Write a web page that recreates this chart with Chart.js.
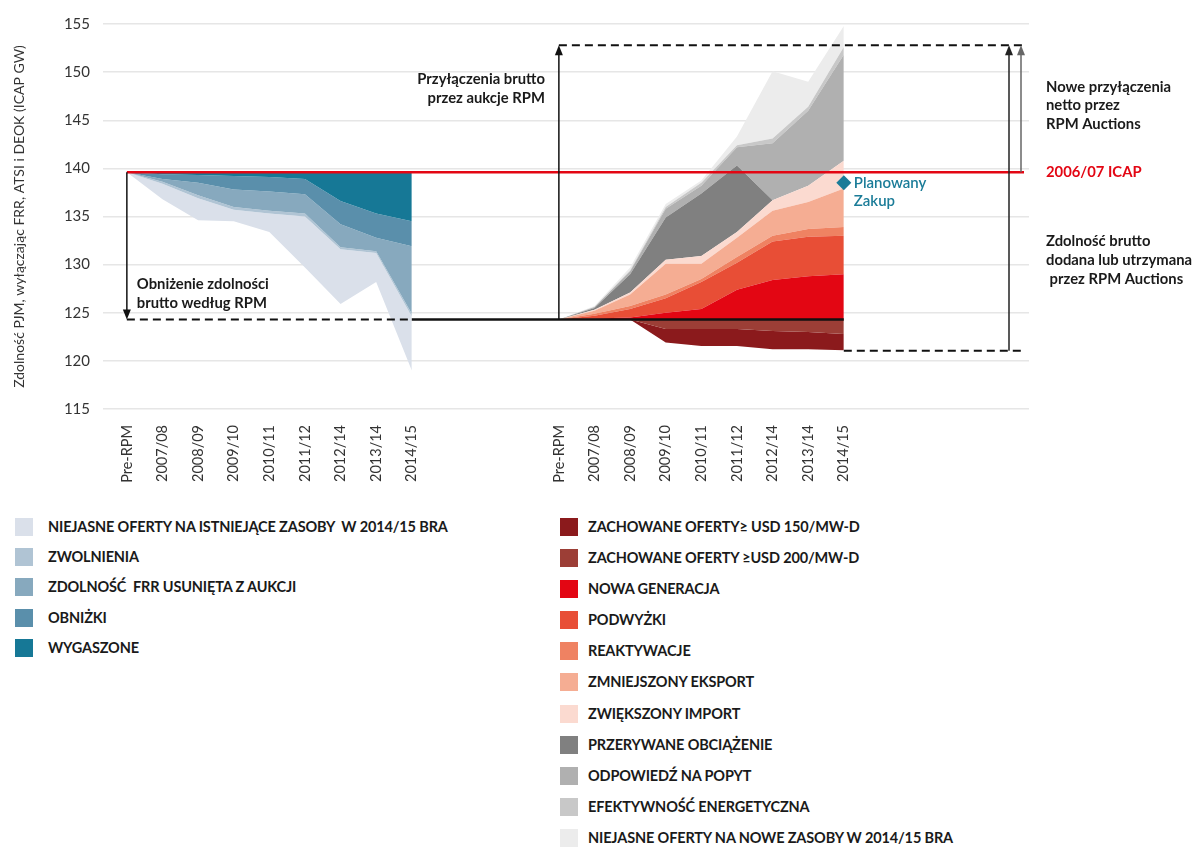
<!DOCTYPE html>
<html lang="pl">
<head>
<meta charset="utf-8">
<script src="https://cdn.jsdelivr.net/npm/chart.js@4.4.0/dist/chart.umd.min.js"></script>
<style>
  body { margin: 0; background: #fff; font-family: Lato, "Noto Sans", sans-serif; }
  #wrap { position: relative; width: 1192px; height: 847px; }
  #chartBox { position: absolute; left: 0; top: 0; width: 1192px; height: 490px; }
  .legend { position: absolute; top: 518px; }
  .legend .row { display: flex; align-items: center; font-weight: bold; font-size: 14.5px; color: #1a1a1a; letter-spacing: -0.15px; white-space: pre; }
  .legend .sw { width: 18px; height: 18px; flex: none; }
</style>
</head>
<body>
<div id="wrap">
  <div id="chartBox"><canvas id="myChart" width="1192" height="490"></canvas></div>
  <div class="legend" id="legLeft" style="left:15px"></div>
  <div class="legend" id="legRight" style="left:560px"></div>
</div>
<script>
// ---- dane (GW) ----
const categories = ['Pre-RPM', '2007/08', '2008/09', '2009/10', '2010/11', '2011/12', '2012/14', '2013/14', '2014/15'];
const yTicks = [115, 120, 125, 130, 135, 140, 145, 150, 155];

const icap0607 = 139.6;     // 2006/07 ICAP
const rpmBase = 124.3;      // zdolnosc po obnizeniu
const grossTop = 152.8;
const grossBottom = 121.05;
const planowanyZakup = 138.5;

// lewa grupa: obnizenie zdolnosci (od gory w dol)
const wygaszone = [0, 0.2, 0.3, 0.4, 0.5, 0.7, 3.0, 4.3, 5.1];
const obnizki = [0, 0.5, 0.8, 1.4, 1.5, 1.6, 2.4, 2.5, 2.6];
const frrUsunieta = [0, 0.3, 1.3, 1.8, 2.0, 2.0, 2.4, 1.4, 7.0];
const zwolnienia = [0, 0.2, 0.3, 0.3, 0.3, 0.3, 0.2, 0.2, 0.3];
const niejasneIstniejace = [0, 1.6, 2.3, 1.2, 1.9, 5.3, 5.7, 3.0, 5.6];

// prawa grupa: przylaczenia (od dolu w gore)
const nowaGeneracja = [0, 0.1, 0.2, 0.7, 1.1, 3.1, 4.1, 4.5, 4.7];
const podwyzki = [0, 0.3, 0.9, 1.5, 2.8, 2.8, 4.0, 4.1, 4.0];
const reaktywacje = [0, 0.2, 0.3, 0.4, 0.3, 0.6, 0.6, 0.8, 0.9];
const zmniejszonyEksport = [0, 0.3, 1.2, 3.2, 1.6, 2.0, 2.6, 2.8, 4.0];
const zwiekszonyImport = [0, 0.1, 0.2, 0.4, 0.8, 0.6, 1.1, 1.7, 2.9];
const przerywane = [0, 0.2, 1.9, 4.4, 6.5, 6.9, 0, 0, 0];
const odpowiedzPopyt = [0, 0.1, 0.3, 0.9, 0.8, 1.9, 5.9, 7.8, 11.0];
const efektywnosc = [0, 0, 0.1, 0.2, 0.3, 0.2, 0.5, 0.4, 0.8];
const niejasneNowe = [0, 0.1, 0.3, 0.3, 0.25, 0.9, 7.0, 2.6, 2.2];

// prawa grupa: zachowane oferty (pod linia bazowa)
const zachowane200 = [0, 0, 0, 1.0, 1.0, 1.0, 1.2, 1.3, 1.5];
const zachowane150 = [0, 0, 0, 1.4, 1.75, 1.75, 1.9, 1.8, 1.7];

// ---- uklad osi x ----
const rightStart = 12.13;
const leftX = categories.map((c, i) => i);
const rightX = categories.map((c, i) => i + rightStart);
const tickPos = leftX.concat(rightX);
const tickLabels = categories.concat(categories);

// ---- serie: nazwa, dane, kolor ----
const leftSeries = [
  ['WYGASZONE', wygaszone, '#167896'],
  ['OBNIŻKI', obnizki, '#5a8fab'],
  ['ZDOLNOŚĆ  FRR USUNIĘTA Z AUKCJI', frrUsunieta, '#87a9be'],
  ['ZWOLNIENIA', zwolnienia, '#b0c4d4'],
  ['NIEJASNE OFERTY NA ISTNIEJĄCE ZASOBY  W 2014/15 BRA', niejasneIstniejace, '#dae0ea']
];
const upSeries = [
  ['NOWA GENERACJA', nowaGeneracja, '#e30613'],
  ['PODWYŻKI', podwyzki, '#e84e36'],
  ['REAKTYWACJE', reaktywacje, '#ef8262'],
  ['ZMNIEJSZONY EKSPORT', zmniejszonyEksport, '#f5ad93'],
  ['ZWIĘKSZONY IMPORT', zwiekszonyImport, '#fbdad0'],
  ['PRZERYWANE OBCIĄŻENIE', przerywane, '#808080'],
  ['ODPOWIEDŹ NA POPYT', odpowiedzPopyt, '#b0b0b0'],
  ['EFEKTYWNOŚĆ ENERGETYCZNA', efektywnosc, '#c8c8c8'],
  ['NIEJASNE OFERTY NA NOWE ZASOBY W 2014/15 BRA', niejasneNowe, '#ececec']
];
const downSeries = [
  ['ZACHOWANE OFERTY ≥USD 200/MW-D', zachowane200, '#9c3e36'],
  ['ZACHOWANE OFERTY≥ USD 150/MW-D', zachowane150, '#8b1a1c']
];

// skumulowane granice warstw -> datasety z wypelnieniem do poprzedniej
function stackSets(series, xs, base, sign) {
  const run = xs.map(() => base);
  return series.map((s, k) => {
    const pts = xs.map((xv, i) => {
      run[i] = run[i] + sign * s[1][i];
      return { x: xv, y: +run[i].toFixed(3) };
    });
    return {
      label: s[0], data: pts, backgroundColor: s[2], borderWidth: 0,
      pointRadius: 0, tension: 0, fill: k === 0 ? { value: base } : '-1'
    };
  });
}

const datasets = [].concat(
  stackSets(leftSeries, leftX, icap0607, -1),
  stackSets(upSeries, rightX, rpmBase, 1),
  stackSets(downSeries, rightX, rpmBase, -1)
);
datasets.push({
  type: 'scatter', label: 'Planowany Zakup', order: -1,
  data: [{ x: rightX[8], y: planowanyZakup }],
  pointStyle: 'rectRot', pointRadius: 7.5, backgroundColor: '#1b7c98', borderWidth: 0,
  clip: false
});

// ---- adnotacje ----
function arrow(ctx, x, y1, y2, color) {
  const dir = y2 > y1 ? 1 : -1;
  ctx.strokeStyle = color; ctx.fillStyle = color; ctx.lineWidth = 1.5; ctx.setLineDash([]);
  ctx.beginPath(); ctx.moveTo(x, y1); ctx.lineTo(x, y2 - dir * 8); ctx.stroke();
  ctx.beginPath(); ctx.moveTo(x, y2); ctx.lineTo(x - 4, y2 - dir * 10); ctx.lineTo(x + 4, y2 - dir * 10); ctx.closePath(); ctx.fill();
}
function hline(ctx, x1, x2, y, color, dash, w) {
  ctx.strokeStyle = color; ctx.lineWidth = w; ctx.setLineDash(dash);
  ctx.beginPath(); ctx.moveTo(x1, y); ctx.lineTo(x2, y); ctx.stroke(); ctx.setLineDash([]);
}
function lines(ctx, arr, x, y, lh) {
  arr.forEach((t, i) => ctx.fillText(t, x, y + i * lh));
}

const notes = {
  id: 'notes',
  afterDatasetsDraw(chart) {
    const { ctx, chartArea: a, scales: { x, y } } = chart;
    const xl0 = x.getPixelForValue(leftX[0]), xl8 = x.getPixelForValue(leftX[8]);
    const xr0 = x.getPixelForValue(rightX[0]), xr8 = x.getPixelForValue(rightX[8]);
    const yIcap = y.getPixelForValue(icap0607), yBase = y.getPixelForValue(rpmBase);
    const yTop = y.getPixelForValue(grossTop), yBot = y.getPixelForValue(grossBottom);
    const xEnd = a.right - 5;
    ctx.save();
    hline(ctx, xl0, xEnd, yIcap, '#e30613', [], 2.5);
    hline(ctx, xl0, xl8, yBase, '#111', [8, 5], 2);
    hline(ctx, xl8, xr8, yBase, '#111', [], 2.5);
    hline(ctx, xr0, xEnd, yTop, '#111', [8, 5], 2);
    hline(ctx, xr8, xEnd, yBot, '#111', [8, 5], 2);
    arrow(ctx, xl0, yIcap, yBase, '#111');
    arrow(ctx, xr0, yBase, yTop, '#111');
    arrow(ctx, a.right - 20, yBot, yTop, '#222');
    arrow(ctx, a.right - 8, yIcap, yTop, '#666');

    ctx.font = 'bold 14.8px Lato';
    ctx.fillStyle = '#1a1a1a';
    ctx.textBaseline = 'middle';
    ctx.textAlign = 'left';
    lines(ctx, ['Obniżenie zdolności', 'brutto według RPM'], xl0 + 10, 284, 19);
    ctx.textAlign = 'right';
    lines(ctx, ['Przyłączenia brutto', 'przez aukcje RPM'], xr0 - 14, 79, 19);
    ctx.textAlign = 'left';
    const tx = a.right + 17;
    lines(ctx, ['Nowe przyłączenia', 'netto przez', 'RPM Auctions'], tx, 87, 18.5);
    lines(ctx, ['Zdolność brutto', 'dodana lub utrzymana', ' przez RPM Auctions'], tx, 241, 19);
    ctx.fillStyle = '#e30613';
    ctx.fillText('2006/07 ICAP', tx, yIcap);
    ctx.fillStyle = '#1b7c98';
    ctx.font = '600 15px Lato';
    lines(ctx, ['Planowany', 'Zakup'], xr8 + 10, 183, 18);
    ctx.restore();
  }
};

Chart.defaults.font.family = 'Lato';

new Chart(document.getElementById('myChart').getContext('2d'), {
  type: 'line',
  data: { datasets },
  options: {
    responsive: false,
    animation: false,
    layout: { padding: { left: 0, right: 163, top: 24, bottom: 0 } },
    plugins: { legend: { display: false }, tooltip: { enabled: false } },
    scales: {
      x: {
        type: 'linear', min: -0.67, max: 25.33,
        grid: { display: false }, border: { display: false },
        afterBuildTicks: s => { s.ticks = tickPos.map(v => ({ value: v })); },
        afterFit: s => { s.height = 81; },
        ticks: {
          autoSkip: false, minRotation: 90, maxRotation: 90, padding: 8,
          color: '#333', font: { size: 14.5 },
          callback: (v, i) => tickLabels[i]
        }
      },
      y: {
        min: 115, max: 155,
        afterBuildTicks: s => { s.ticks = yTicks.map(v => ({ value: v })); },
        afterFit: s => { s.width = 103; },
        grid: { color: '#e6e6e6', lineWidth: 1.5, drawTicks: false },
        border: { display: false },
        ticks: { padding: 13, color: '#333', font: { size: 15 } },
        title: {
          display: true, text: 'Zdolność PJM, wyłączając FRR, ATSI i DEOK (ICAP GW)',
          color: '#333', font: { size: 14 }, padding: { top: 11, bottom: 0 }
        }
      }
    }
  },
  plugins: [notes]
});

// ---- legenda HTML ----
function legend(el, items, step, gap) {
  items.forEach(it => {
    const row = document.createElement('div');
    row.className = 'row';
    row.style.height = step + 'px';
    row.style.alignItems = 'flex-start';
    row.innerHTML = '<span class="sw" style="background:' + it[2] + '"></span>' +
      '<span style="margin-left:' + gap + 'px;line-height:18px">' + it[0] + '</span>';
    el.appendChild(row);
  });
}
legend(document.getElementById('legLeft'), leftSeries.slice().reverse(), 30.2, 15);
legend(document.getElementById('legRight'), downSeries.slice().reverse().concat(upSeries), 31.1, 10);
</script>
</body>
</html>
